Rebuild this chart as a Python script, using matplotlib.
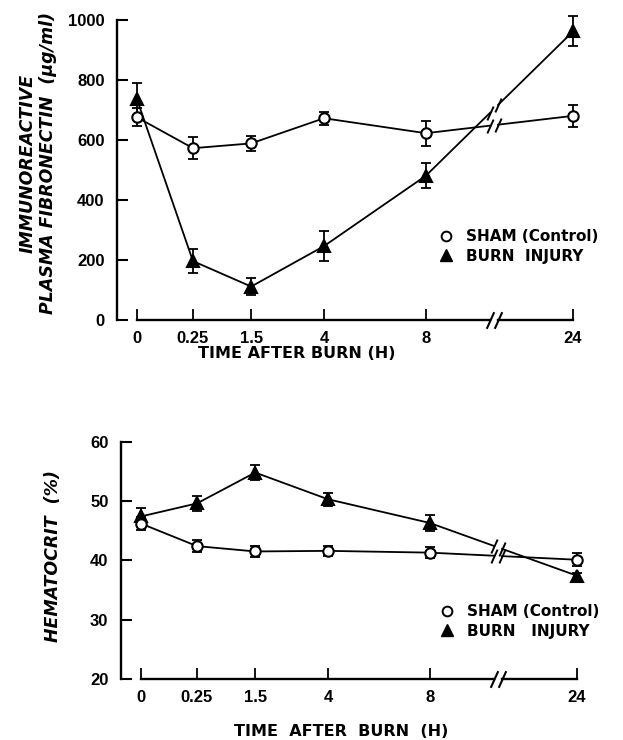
import numpy as np
import matplotlib
matplotlib.use('Agg')
import matplotlib.pyplot as plt
import matplotlib.transforms as mtransforms
from matplotlib.lines import Line2D

# sampling times (categories) and values
times = ['0', '0.25', '1.5', '4', '8', '24']

fn_sham = [675, 572, 588, 672, 622, 680]
fn_sham_err = [30, 37, 25, 22, 42, 36]
fn_burn = [735, 195, 110, 245, 480, 962]
fn_burn_err = [55, 40, 28, 50, 42, 50]

hct_sham = [46.2, 42.4, 41.5, 41.6, 41.3, 40.1]
hct_sham_err = [1.1, 1.0, 1.0, 0.9, 0.9, 1.1]
hct_burn = [47.4, 49.6, 54.8, 50.3, 46.3, 37.4]
hct_burn_err = [1.4, 1.2, 1.3, 1.1, 1.4, 0.5]

# layout: uneven spacing of the time axis, with a break between 8 and 24
x_pos = [0, 1.0, 2.04, 3.34, 5.16, 7.79]
break_pos = 6.38
gap = 0.07

W, H = 623, 740
plt.rcParams['font.family'] = ['Liberation Sans', 'DejaVu Sans']
plt.rcParams['font.weight'] = 'bold'
label_font = ['DejaVu Sans']

fig = plt.figure(figsize=(W / 100, H / 100), dpi=100)


def px(x, y):
    return x / W, 1 - y / H


slash = [(-0.45, -1), (0.45, 1)]


def draw_series(ax, y, err, marker, face, ms, z):
    ax.errorbar(x_pos, y, yerr=err, fmt='none', ecolor='black', elinewidth=1.3,
                capsize=3.6, capthick=1.3, zorder=z, clip_on=False)
    ax.plot(x_pos[:5], y[:5], color='black', lw=1.3, zorder=z, clip_on=False)
    x1, x2 = break_pos - gap, break_pos + gap
    slope = (y[5] - y[4]) / (x_pos[5] - x_pos[4])
    y1 = y[4] + slope * (x1 - x_pos[4])
    y2 = y[4] + slope * (x2 - x_pos[4])
    ax.plot([x_pos[4], x1], [y[4], y1], color='black', lw=1.3, zorder=z)
    ax.plot([x2, x_pos[5]], [y2, y[5]], color='black', lw=1.3, zorder=z)
    ax.plot([x1, x2], [y1, y2], ls='none', marker=slash, ms=10, mew=1.4,
            color='black', zorder=z)
    ax.plot(x_pos, y, ls='none', marker=marker, ms=ms, mfc=face, mec='black',
            mew=1.5, zorder=z + 0.5, clip_on=False)


def style_axes(ax, ylim, yticks):
    ax.set_xlim(-0.357, 8.36)
    ax.set_ylim(*ylim)
    ax.set_yticks(yticks)
    ax.set_xticks(x_pos, times)
    for s in ['top', 'right', 'bottom']:
        ax.spines[s].set_visible(False)
    ax.spines['left'].set_bounds(*ylim)
    ax.spines['left'].set_linewidth(1.7)
    ax.tick_params(axis='y', direction='in', length=8, width=1.5, pad=9, labelsize=12)
    ax.tick_params(axis='x', direction='in', length=8, width=1.3, pad=8, labelsize=12)
    # broken x axis line
    trans = mtransforms.blended_transform_factory(ax.transData, ax.transAxes)
    kw = dict(color='black', lw=1.7, transform=trans, clip_on=False)
    ax.plot([x_pos[0], break_pos - gap], [0, 0], **kw)
    ax.plot([break_pos + gap, x_pos[-1]], [0, 0], **kw)
    ax.plot([break_pos - gap, break_pos + gap], [0, 0], ls='none', marker=slash,
            ms=12, mew=1.5, color='black', transform=trans, clip_on=False)


def add_legend(ax, x, y, labels):
    handles = [Line2D([], [], ls='none', marker='o', ms=7, mfc='white', mec='black', mew=1.4),
               Line2D([], [], ls='none', marker='^', ms=8, mfc='black', mec='black')]
    ax.legend(handles, labels, loc='upper left',
              bbox_to_anchor=px(x, y), bbox_transform=fig.transFigure, frameon=False,
              handlelength=0.8, handletextpad=0.9, labelspacing=0.3, borderpad=0,
              borderaxespad=0, prop={'size': 11, 'weight': 'bold', 'family': label_font})


# top panel: plasma fibronectin
l, b = px(117, 319.5)
ax1 = fig.add_axes([l, b, 488 / W, 299.5 / H])
draw_series(ax1, fn_burn, fn_burn_err, '^', 'black', 9, 3)
draw_series(ax1, fn_sham, fn_sham_err, 'o', 'white', 7.5, 4)
style_axes(ax1, (0, 1000), [0, 200, 400, 600, 800, 1000])
add_legend(ax1, 440, 229, ['SHAM (Control)', 'BURN  INJURY'])

# bottom panel: hematocrit
l, b = px(121, 679)
ax2 = fig.add_axes([l, b, 488 / W, 237.3 / H])
draw_series(ax2, hct_burn, hct_burn_err, '^', 'black', 9, 3)
draw_series(ax2, hct_sham, hct_sham_err, 'o', 'white', 7.5, 4)
style_axes(ax2, (20, 60), [20, 30, 40, 50, 60])
add_legend(ax2, 441, 604, ['SHAM (Control)', 'BURN   INJURY'])

fig.text(*px(38, 163), 'IMMUNOREACTIVE\nPLASMA FIBRONECTIN  (\u00b5g/ml)', rotation=90,
         ha='center', va='center', style='italic', fontsize=12.5, linespacing=1.15,
         multialignment='center', family=label_font)
fig.text(*px(53, 556), 'HEMATOCRIT  (%)', rotation=90, ha='center', va='center',
         style='italic', fontsize=12.5, family=label_font)
fig.text(*px(297, 353), 'TIME AFTER BURN (H)', ha='center', va='center', fontsize=11.5,
         family=label_font)
fig.text(*px(341, 732), 'TIME  AFTER  BURN  (H)', ha='center', va='center', fontsize=11.5,
         family=label_font)

fig.savefig('out.png', dpi=100)
